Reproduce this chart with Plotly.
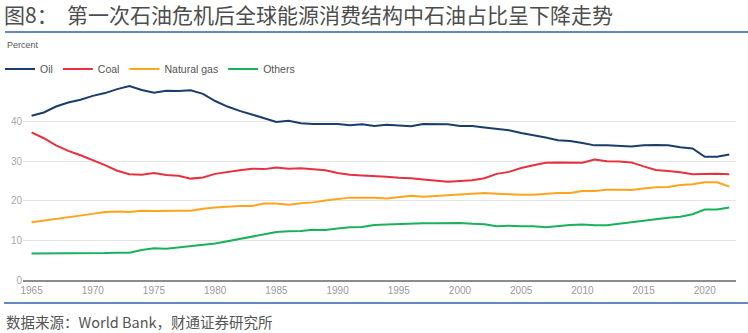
import plotly.graph_objects as go

years = list(range(1965, 2023))

oil = [41.5, 42.3, 43.8, 44.8, 45.5, 46.5, 47.2, 48.2, 49.0, 48.0,
       47.3, 47.8, 47.7, 47.9, 47.0, 45.2, 43.8, 42.7, 41.8, 40.9,
       39.9, 40.2, 39.6, 39.4, 39.4, 39.4, 39.1, 39.3, 38.9, 39.2,
       39.0, 38.8, 39.4, 39.4, 39.3, 38.9, 38.9, 38.5, 38.1, 37.8,
       37.1, 36.6, 36.0, 35.3, 35.1, 34.6, 34.0, 34.0, 33.8, 33.7,
       34.0, 34.1, 34.0, 33.5, 33.2, 31.1, 31.1, 31.7]

coal = [37.3, 35.8, 34.0, 32.6, 31.5, 30.3, 29.0, 27.6, 26.7, 26.6,
        27.0, 26.5, 26.3, 25.6, 25.9, 26.8, 27.3, 27.7, 28.1, 28.0,
        28.4, 28.1, 28.2, 28.0, 27.7, 27.0, 26.6, 26.4, 26.3, 26.1,
        25.8, 25.7, 25.4, 25.1, 24.8, 25.0, 25.2, 25.7, 26.8, 27.3,
        28.3, 29.0, 29.6, 29.7, 29.7, 29.6, 30.4, 30.0, 29.9, 29.7,
        28.7, 27.8, 27.5, 27.2, 26.7, 26.8, 26.8, 26.7]

gas = [14.6, 15.0, 15.5, 15.9, 16.3, 16.7, 17.2, 17.3, 17.2, 17.5,
       17.4, 17.5, 17.5, 17.5, 18.0, 18.3, 18.5, 18.7, 18.7, 19.3,
       19.3, 19.0, 19.4, 19.6, 20.1, 20.4, 20.8, 20.8, 20.8, 20.6,
       21.0, 21.3, 21.0, 21.2, 21.4, 21.7, 21.8, 22.0, 21.8, 21.6,
       21.5, 21.5, 21.7, 22.0, 22.0, 22.5, 22.5, 22.8, 22.8, 22.7,
       23.1, 23.4, 23.5, 24.0, 24.2, 24.7, 24.7, 23.6]

others = [6.7, 6.7, 6.7, 6.7, 6.7, 6.7, 6.8, 6.9, 6.9, 7.6,
          8.0, 7.9, 8.2, 8.6, 8.8, 9.2, 9.8, 10.4, 11.0, 11.5,
          12.1, 12.3, 12.4, 12.7, 12.6, 13.0, 13.3, 13.4, 13.9, 14.0,
          14.1, 14.3, 14.3, 14.3, 14.4, 14.4, 14.2, 14.1, 13.6, 13.7,
          13.6, 13.6, 13.3, 13.6, 13.9, 14.0, 13.8, 13.8, 14.2, 14.6,
          14.9, 15.3, 15.7, 16.0, 16.6, 17.8, 17.8, 18.3]

series_names = ["Oil", "Coal", "Natural gas", "Others"]
series_colors = ["#1c3d6b", "#e8303f", "#ffa41c", "#19b25a"]
x_ticks = list(range(1965, 2021, 5))
y_ticks = [0, 10, 20, 30, 40]

title_text = "图8：  第一次石油危机后全球能源消费结构中石油占比呈下降走势"
source_text = "数据来源：World Bank，财通证券研究所"

FONT = "Liberation Sans, Arial, Noto Sans CJK SC, sans-serif"
CJK = "Noto Sans CJK SC, Liberation Sans, sans-serif"

W, H = 748, 333
L, R, T, B = 23, 12, 82, 53
pw = W - L - R
ph = H - T - B

def px(xp):
    return (xp - L) / pw

def py(yp):
    return (H - B - yp) / ph

fig = go.Figure()
for name, vals, col in zip(series_names, [oil, coal, gas, others], series_colors):
    fig.add_trace(go.Scatter(x=years, y=vals, mode="lines", name=name,
                             line=dict(color=col, width=2)))

fig.update_layout(
    width=W, height=H,
    margin=dict(l=L, r=R, t=T, b=B, autoexpand=False),
    paper_bgcolor="white", plot_bgcolor="white",
    font=dict(family=FONT, size=10, color="#666"),
    showlegend=True,
    legend=dict(orientation="h", xref="container", yref="container",
                x=0, y=1 - 69 / H, xanchor="left", yanchor="middle",
                font=dict(size=10.5, color="#555"), itemwidth=30,
                tracegroupgap=0, bgcolor="rgba(0,0,0,0)"),
    xaxis=dict(range=[1964.3, 2022.55], tickvals=x_ticks, showgrid=False,
               showline=True, linecolor="#8c8c8c", linewidth=1.5, zeroline=False,
               ticks="", tickfont=dict(size=10, color="#9a9a9a")),
    yaxis=dict(range=[0, 50], tickvals=y_ticks, showgrid=True, gridcolor="#e6e6e6",
               gridwidth=1, zeroline=False, showline=False, ticks="",
               tickfont=dict(size=10, color="#aaaaaa")),
    title=dict(text=title_text, xref="container", yref="container", x=4 / W, xanchor="left",
               y=1 - 16 / H, yanchor="middle",
               font=dict(family=CJK, size=21, color="#4d4d4d")),
)

fig.add_shape(type="line", xref="paper", yref="paper", x0=px(5), x1=px(748),
              y0=py(32), y1=py(32), line=dict(color="#2f62a8", width=1.5))
fig.add_shape(type="line", xref="paper", yref="paper", x0=px(4), x1=px(748),
              y0=py(303), y1=py(303), line=dict(color="#2f62a8", width=1.5))

fig.add_annotation(text="Percent", xref="paper", yref="paper", x=px(5), y=py(45),
                   xanchor="left", yanchor="middle", showarrow=False,
                   font=dict(size=9, color="#555"))
fig.add_annotation(text=source_text, xref="paper", yref="paper", x=px(4), y=py(321),
                   xanchor="left", yanchor="middle", showarrow=False,
                   font=dict(family=CJK, size=14.5, color="#555555"))

fig.write_html("out.html")
